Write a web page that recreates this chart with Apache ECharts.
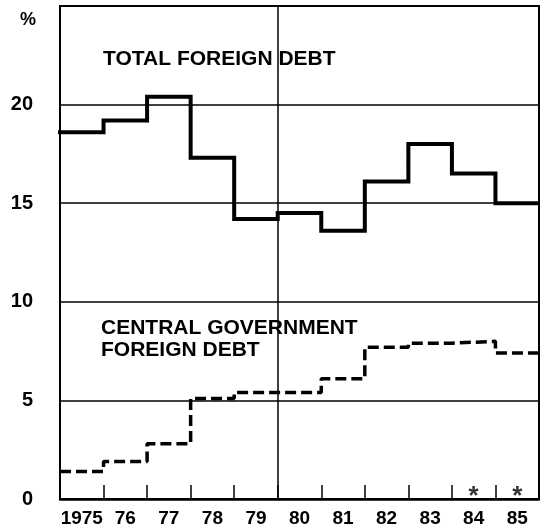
<!DOCTYPE html>
<html>
<head>
<meta charset="utf-8">
<script src="https://cdn.jsdelivr.net/npm/echarts@6/dist/echarts.min.js"></script>
<style>
  html, body { margin: 0; padding: 0; background: #fff; }
  #chart { width: 540px; height: 528px; }
</style>
</head>
<body>
<div id="chart"></div>
<script>
// years (start of each step) and the labels under them
var years = [1975, 1976, 1977, 1978, 1979, 1980, 1981, 1982, 1983, 1984, 1985];
var yearLabels = ['1975', '76', '77', '78', '79', '80', '81', '82', '83', '84', '85'];
// total foreign debt, %
var totalDebt = [18.6, 19.2, 20.4, 17.3, 14.2, 14.5, 13.6, 16.1, 18.0, 16.5, 15.0];
// central government foreign debt, %
var centralDebt = [1.4, 1.9, 2.8, 5.1, 5.4, 5.4, 6.1, 7.7, 7.9, 8.0, 7.4];
// years marked with an asterisk
var starYears = [1984, 1985];
var yTicks = [0, 5, 10, 15, 20];

var FONT = 'Liberation Sans';

// step data: one point per year start, plus closing point at end of last year
function stepData(vals) {
  var d = [];
  for (var i = 0; i < years.length; i++) {
    d.push([years[i], vals[i]]);
  }
  d.push([years[years.length - 1] + 1, vals[vals.length - 1]]);
  return d;
}

var chart = echarts.init(document.getElementById('chart'));

var option = {
  animation: false,
  grid: {
    left: 60, right: 1, top: 6, bottom: 29,
    show: true,
    borderColor: '#000',
    borderWidth: 2
  },
  xAxis: [{
    type: 'value',
    position: 'bottom',
    min: 1975,
    max: 1986,
    interval: 1,
    axisLine: { show: true, lineStyle: { color: '#000', width: 2.5 } },
    axisTick: { show: true, inside: true, length: 14, lineStyle: { color: '#000', width: 1.5 } },
    axisLabel: { show: false },
    splitLine: { show: false }
  }, {
    type: 'category',
    position: 'bottom',
    data: yearLabels,
    boundaryGap: true,
    axisLine: { show: false },
    axisTick: { show: false },
    splitLine: { show: false },
    axisLabel: {
      margin: 10,
      color: '#000',
      fontFamily: FONT,
      fontWeight: 'bold',
      fontSize: 19,
      interval: 0
    }
  }],
  yAxis: {
    type: 'value',
    min: 0,
    max: 25,
    interval: 5,
    axisLine: { show: true, lineStyle: { color: '#000', width: 2 } },
    axisTick: { show: false },
    splitLine: { show: true, lineStyle: { color: '#000', width: 1.5 } },
    axisLabel: {
      margin: 27,
      color: '#000',
      fontFamily: FONT,
      fontWeight: 'bold',
      fontSize: 20,
      formatter: function (v) {
        return yTicks.indexOf(v) >= 0 ? String(v) : '';
      }
    }
  },
  series: [{
    name: 'Total foreign debt',
    type: 'line',
    xAxisIndex: 0,
    step: 'end',
    symbol: 'none',
    data: stepData(totalDebt),
    lineStyle: { color: '#000', width: 4, cap: 'square', join: 'miter' },
    markLine: {
      silent: true,
      symbol: 'none',
      label: { show: false },
      lineStyle: { color: '#000', width: 1.5, type: 'solid' },
      data: [{ xAxis: 1980 }]
    }
  }, {
    name: 'Central government foreign debt',
    type: 'line',
    xAxisIndex: 0,
    step: 'end',
    symbol: 'none',
    data: stepData(centralDebt),
    lineStyle: { color: '#000', width: 3.5, type: [11, 5] }
  }, {
    name: 'note',
    type: 'scatter',
    xAxisIndex: 0,
    symbolSize: 0,
    data: starYears.map(function (y) { return [y + 0.5, 0.4]; }),
    label: {
      show: true,
      position: 'inside',
      formatter: '*',
      color: '#000',
      fontFamily: FONT,
      fontWeight: 'bold',
      fontSize: 26,
      offset: [0, 6]
    }
  }],
  graphic: [{
    type: 'text',
    left: 20,
    top: 11,
    style: {
      text: '%',
      fill: '#000',
      font: 'bold 18px "Liberation Sans"'
    }
  }, {
    type: 'text',
    left: 103,
    top: 49,
    style: {
      text: 'TOTAL FOREIGN DEBT',
      fill: '#000',
      font: 'bold 21px "Liberation Sans"'
    }
  }, {
    type: 'text',
    left: 101,
    top: 317,
    style: {
      text: 'CENTRAL GOVERNMENT\nFOREIGN DEBT',
      fill: '#000',
      lineHeight: 22,
      font: 'bold 21px "Liberation Sans"'
    }
  }]
};

chart.setOption(option);
</script>
</body>
</html>
